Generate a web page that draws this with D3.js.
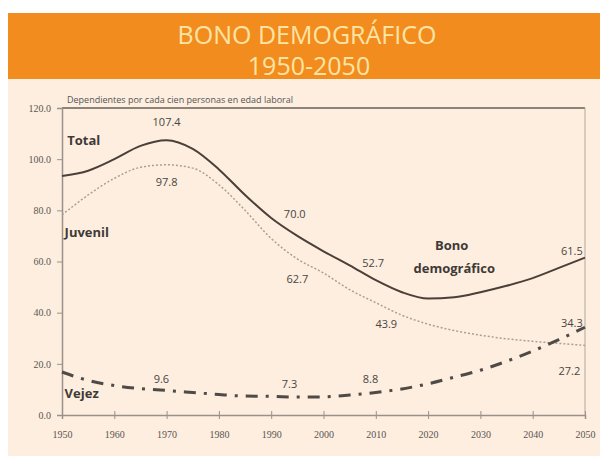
<!DOCTYPE html>
<html>
<head>
<meta charset="utf-8">
<script src="https://cdn.jsdelivr.net/npm/d3@7"></script>
<style>
  body { margin: 0; background: #fff; }
  text { font-family: "Open Sans", sans-serif; }
</style>
</head>
<body>
<script>
const years = d3.range(1950, 2051, 5);
const total = [93.4, 95.5, 100, 105.2, 107.4, 104, 96, 86, 77, 70, 64, 58.5, 52.7, 48, 45.5, 46, 48, 50.5, 53.5, 57.5, 61.5];
const juvenil = [78.2, 86, 92.5, 96.8, 97.8, 96.5, 90, 80, 69, 61, 55.5, 49, 43.9, 39, 35.5, 33, 31.2, 29.8, 28.8, 28, 27.2];
const vejez = [16.8, 13.5, 11.5, 10.3, 9.6, 8.8, 8.0, 7.4, 7.3, 7.0, 7.1, 7.8, 8.8, 10.2, 12.2, 14.8, 17.5, 21, 25, 29.5, 34.3];

const yTicks = [0, 20, 40, 60, 80, 100, 120];
const xTicks = d3.range(1950, 2051, 10);

// value labels: [year, value, text]
const valueLabels = [
  [1970, 113, "107.4"],
  [1970, 89.5, "97.8"],
  [1994.5, 77, "70.0"],
  [1995, 51.5, "62.7"],
  [2009.5, 58, "52.7"],
  [2012, 34, "43.9"],
  [2047.5, 62.5, "61.5"],
  [2047.5, 34.5, "34.3"],
  [2047, 15.5, "27.2"],
  [1969, 12.5, "9.6"],
  [1993.5, 10.5, "7.3"],
  [2009, 12.5, "8.8"]
];

const width = 600, height = 460;
const margin = { left: 62, right: 15, top: 108, bottom: 45 };

const svg = d3.select("body").append("svg")
  .attr("width", width)
  .attr("height", height);

// background
svg.append("rect").attr("x", 8).attr("y", 79).attr("width", 592).attr("height", 377).attr("fill", "#fdeee0");
svg.append("rect").attr("x", 8).attr("y", 13).attr("width", 592).attr("height", 66).attr("fill", "#f28c1f");

const title = svg.append("text").attr("text-anchor", "middle")
  .attr("fill", "#fde4a4").style("font-size", "25px").style("font-weight", 500);
title.append("tspan").attr("x", 307).attr("y", 44).text("BONO DEMOGRÁFICO");
title.append("tspan").attr("x", 309).attr("y", 75).text("1950-2050");

const x = d3.scaleLinear().domain([1950, 2050]).range([margin.left, width - margin.right]);
const y = d3.scaleLinear().domain([0, 120]).range([height - margin.bottom, margin.top]);

// frame
svg.append("line").attr("x1", x(1950)).attr("x2", x(2050)).attr("y1", y(120)).attr("y2", y(120))
  .attr("stroke", "#8c8478").attr("stroke-width", 2);
svg.append("line").attr("x1", x(2050)).attr("x2", x(2050)).attr("y1", y(120)).attr("y2", y(0))
  .attr("stroke", "#b0a89c").attr("stroke-width", 1);

svg.append("text").attr("x", 67).attr("y", 103).attr("fill", "#555")
  .style("font-size", "9px").text("Dependientes por cada cien personas en edad laboral");

const yAxis = svg.append("g")
  .attr("transform", `translate(${margin.left},0)`)
  .call(d3.axisLeft(y).tickValues(yTicks).tickSize(5).tickPadding(6).tickFormat(d => d3.format(".1f")(d)));
const xAxis = svg.append("g")
  .attr("transform", `translate(0,${y(0)})`)
  .call(d3.axisBottom(x).tickValues(xTicks).tickSize(4).tickPadding(12).tickFormat(d3.format("d")));
xAxis.selectAll(".tick line").attr("y1", -4);

[yAxis, xAxis].forEach(a => {
  a.select(".domain").attr("stroke", "#9a9288").attr("stroke-width", 1.5);
  a.selectAll(".tick line").attr("stroke", "#9a9288");
  a.selectAll("text").attr("fill", "#5a5550").style("font-family", "'Liberation Serif', serif").style("font-size", "10px");
});

const line = d3.line().x((d, i) => x(years[i])).y(d => y(d)).curve(d3.curveMonotoneX);

svg.append("path").datum(juvenil).attr("d", line).attr("fill", "none")
  .attr("stroke", "#a89f95").attr("stroke-width", 1.5).attr("stroke-dasharray", "2,2");
svg.append("path").datum(total).attr("d", line).attr("fill", "none")
  .attr("stroke", "#4a4038").attr("stroke-width", 2);
svg.append("path").datum(vejez).attr("d", line).attr("fill", "none")
  .attr("stroke", "#4f4a45").attr("stroke-width", 3).attr("stroke-dasharray", "12,8,3,8");

// series names
const names = [
  [1951, 105.5, "Total"],
  [1950.5, 69.5, "Juvenil"],
  [1950.5, 6.5, "Vejez"]
];
svg.selectAll(".name").data(names).enter().append("text")
  .attr("x", d => x(d[0])).attr("y", d => y(d[1]))
  .attr("fill", "#3f3a36").style("font-size", "13px").style("font-weight", "bold")
  .text(d => d[2]);

svg.append("text").attr("x", x(2024.5)).attr("y", y(64.5)).attr("text-anchor", "middle")
  .attr("fill", "#3f3a36").style("font-size", "13px").style("font-weight", "bold").text("Bono");
svg.append("text").attr("x", x(2025)).attr("y", y(55.5)).attr("text-anchor", "middle")
  .attr("fill", "#3f3a36").style("font-size", "13px").style("font-weight", "bold").text("demográfico");

svg.selectAll(".val").data(valueLabels).enter().append("text")
  .attr("x", d => x(d[0])).attr("y", d => y(d[1])).attr("text-anchor", "middle")
  .attr("fill", "#4a4540").style("font-size", "11px")
  .text(d => d[2]);
</script>
</body>
</html>
